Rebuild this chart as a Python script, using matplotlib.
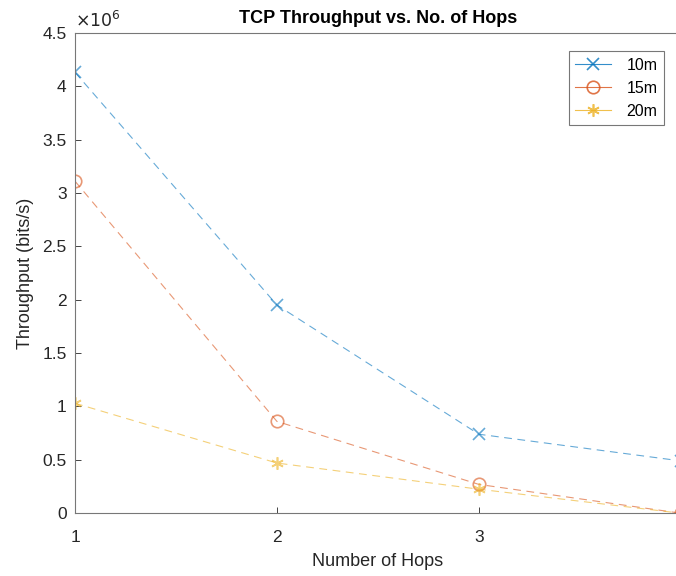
import matplotlib
matplotlib.use("Agg")
import matplotlib.pyplot as plt
from matplotlib.ticker import MultipleLocator, FuncFormatter

hops = [1, 2, 3, 4]
thr_10m = [4.13e6, 1.95e6, 0.74e6, 0.49e6]
thr_15m = [3.11e6, 0.86e6, 0.27e6, 0.0]
thr_20m = [1.03e6, 0.47e6, 0.225e6, 0.0]
series = [("10m", thr_10m, "#0072BD", "x"),
          ("15m", thr_15m, "#D95319", "o"),
          ("20m", thr_20m, "#EDB120", (6, 2, 0))]

plt.rcParams['font.family'] = ['Liberation Sans', 'DejaVu Sans']

fig = plt.figure(figsize=(6.76, 5.76), dpi=100)
ax = fig.add_axes([0.111, 0.109, 0.896, 0.834])

for name, vals, col, mk in series:
    ax.plot(hops, vals, linestyle=(0, (7, 5)), color=col, lw=0.8, alpha=0.6,
            marker=mk, markersize=9, markerfacecolor='none',
            markeredgecolor=col, markeredgewidth=1.2, label=name)

ax.set_xlim(1, 4)
ax.set_ylim(0, 4.5e6)
ax.set_xticks([1, 2, 3])
ax.yaxis.set_major_locator(MultipleLocator(0.5e6))
ax.yaxis.set_major_formatter(FuncFormatter(lambda v, p: f"{v / 1e6:g}"))
ax.tick_params(direction='in', length=4, labelsize=12.5, colors='#262626', width=0.6)
ax.tick_params(axis='x', pad=12)
ax.tick_params(axis='y', pad=6)
ax.text(0.0, 1.005, r"$\times 10^6$", transform=ax.transAxes, fontsize=12.5,
        color='#262626', ha='left', va='bottom')
for sp in ax.spines.values():
    sp.set_color('#777777')
    sp.set_linewidth(0.8)

ax.set_xlabel("Number of Hops", fontsize=13, color='#262626', labelpad=6)
ax.set_ylabel("Throughput (bits/s)", fontsize=13, color='#262626', labelpad=6)
ax.set_title("TCP Throughput vs. No. of Hops", fontsize=13, fontweight='bold', pad=7)

leg = ax.legend(loc='upper right', bbox_to_anchor=(0.994, 0.925),
                bbox_transform=fig.transFigure, fontsize=11.5, fancybox=False,
                edgecolor='#777777', framealpha=1, handlelength=2.2,
                borderpad=0.4, labelspacing=0.5, handletextpad=1.0)
leg.get_frame().set_linewidth(0.8)
for ln in leg.get_lines():
    ln.set_linestyle('-')
    ln.set_alpha(0.8)

fig.savefig("out.png", dpi=100)
